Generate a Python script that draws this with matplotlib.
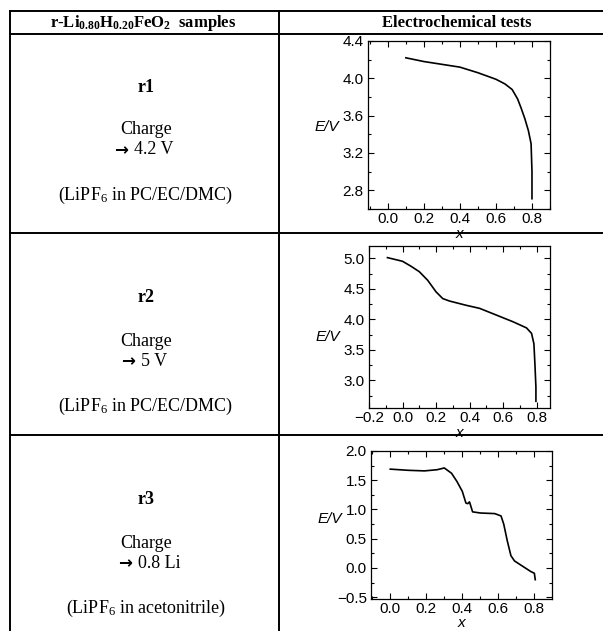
import numpy as np
import matplotlib
matplotlib.use('Agg')
import matplotlib.pyplot as plt
from matplotlib.ticker import MultipleLocator, FuncFormatter

plt.rcParams['font.family'] = ['Liberation Sans', 'DejaVu Sans']
plt.rcParams['mathtext.fontset'] = 'custom'
plt.rcParams['mathtext.rm'] = 'Liberation Serif'
plt.rcParams['mathtext.bf'] = 'Liberation Serif:bold'
plt.rcParams['mathtext.default'] = 'rm'

# ---- data ----
r1_x = [0.10, 0.20, 0.30, 0.40, 0.50, 0.60, 0.65, 0.69, 0.72, 0.74, 0.76, 0.78, 0.795, 0.80, 0.80]
r1_E = [4.22, 4.18, 4.15, 4.12, 4.06, 3.99, 3.94, 3.88, 3.78, 3.68, 3.57, 3.44, 3.30, 3.00, 2.71]

r2_x = [-0.09, 0.00, 0.05, 0.10, 0.15, 0.20, 0.24, 0.28, 0.38, 0.46, 0.56, 0.66, 0.74, 0.77, 0.784, 0.79, 0.796, 0.796]
r2_E = [5.01, 4.95, 4.87, 4.78, 4.64, 4.45, 4.34, 4.30, 4.23, 4.18, 4.07, 3.96, 3.86, 3.77, 3.60, 3.27, 2.89, 2.66]

r3_x = [0.00, 0.10, 0.19, 0.26, 0.30, 0.34, 0.37, 0.40, 0.42, 0.43, 0.44, 0.45, 0.457, 0.50, 0.58,
        0.615, 0.63, 0.65, 0.67, 0.69, 0.74, 0.78, 0.80, 0.805]
r3_E = [1.69, 1.67, 1.66, 1.68, 1.71, 1.62, 1.48, 1.31, 1.11, 1.10, 1.13, 1.03, 0.96, 0.94, 0.93,
        0.89, 0.75, 0.46, 0.21, 0.12, 0.02, -0.06, -0.09, -0.20]

sample_names = ['r1', 'r2', 'r3']
charge_limits = ['4.2 V', '5 V', '0.8 Li']
electrolytes = ['(LiPF$_6$ in PC/EC/DMC)', '(LiPF$_6$ in PC/EC/DMC)', '(LiPF$_6$ in acetonitrile)']
header_left = r'r-Li$_{\mathbf{0.80}}$H$_{\mathbf{0.20}}$FeO$_{\mathbf{2}}$  samples'
header_right = 'Electrochemical tests'

W, H = 603, 631
fig = plt.figure(figsize=(W / 100, H / 100), dpi=100)

# table frame, drawn in pixel coords on a background axes
bg = fig.add_axes([0, 0, 1, 1])
bg.set_xlim(0, W)
bg.set_ylim(H, 0)
bg.axis('off')
lw = 1.4
for yl in [11, 34, 233, 435]:
    bg.plot([10, W], [yl, yl], color='black', lw=lw)
bg.plot([10, 10], [11, H], color='black', lw=lw)
bg.plot([279, 279], [11, H], color='black', lw=lw)

serif = ['Liberation Serif', 'DejaVu Serif']
bg.text(143, 23, header_left, family=serif, fontweight='bold', fontsize=12, ha='center', va='center')
bg.text(457, 23, header_right, family=serif, fontweight='bold', fontsize=12, ha='center', va='center')

row_tops = [87, 298, 500]
arrow_x = [121, 128, 125]   # arrow centres, px
for i in range(3):
    y0 = row_tops[i]
    bg.text(146, y0, sample_names[i], family=serif, fontweight='bold', fontsize=13, ha='center', va='center')
    bg.text(146, y0 + 43, 'Charge', family=serif, fontsize=13, ha='center', va='center')
    bg.text(arrow_x[i], y0 + 63, '\u2192', family=['DejaVu Sans'], fontweight='bold', fontsize=12,
            ha='center', va='center')
    bg.text(arrow_x[i] + 13, y0 + 63, charge_limits[i], family=serif, fontsize=13, ha='left', va='center')
    bg.text(146, y0 + 108, electrolytes[i], family=serif, fontsize=13, ha='center', va='center')

# axes boxes in pixels: (left, top, right, bottom)
boxes = [(368, 41, 550, 209), (369, 246, 550, 408), (371, 451, 552, 599)]
curves = [(r1_x, r1_E), (r2_x, r2_E), (r3_x, r3_E)]
xlims = [(-0.11, 0.90), (-0.2, 0.88), (-0.107, 0.898)]
ylims = [(2.6, 4.4), (2.55, 5.2), (-0.53, 2.0)]
ymajor = [0.4, 0.5, 0.5]
yminor = [0.2, 0.25, 0.25]
ylab_y = [0.49, 0.44, 0.54]
xlab_off = [18, 18, 17]   # px below the frame

fmt = FuncFormatter(lambda v, p: f'{v:.1f}'.replace('-', '\u2212'))

for i in range(3):
    l, t, r, b = boxes[i]
    ax = fig.add_axes([l / W, 1 - b / H, (r - l) / W, (b - t) / H])
    ax.plot(curves[i][0], curves[i][1], color='black', lw=1.2)
    ax.set_xlim(*xlims[i])
    ax.set_ylim(*ylims[i])
    ax.xaxis.set_major_locator(MultipleLocator(0.2))
    ax.xaxis.set_minor_locator(MultipleLocator(0.1))
    ax.yaxis.set_major_locator(MultipleLocator(ymajor[i]))
    ax.yaxis.set_minor_locator(MultipleLocator(yminor[i]))
    ax.xaxis.set_major_formatter(fmt)
    ax.yaxis.set_major_formatter(fmt)
    ax.tick_params(which='both', direction='in', top=True, right=True, width=0.8, labelsize=11, pad=3)
    ax.tick_params(axis='x', which='major', pad=2)
    ax.tick_params(which='major', length=4)
    ax.tick_params(which='minor', length=2)
    for s in ax.spines.values():
        s.set_linewidth(0.9)
    ax.set_ylabel('E/V', rotation=0, fontstyle='italic', fontsize=11, ha='right', va='center')
    ax.yaxis.set_label_coords(-0.16, ylab_y[i])
    ax.set_xlabel('x', fontstyle='italic', fontsize=11, va='top')
    ax.xaxis.set_label_coords(0.5, -xlab_off[i] / (b - t))

fig.savefig('out.png', dpi=100)
